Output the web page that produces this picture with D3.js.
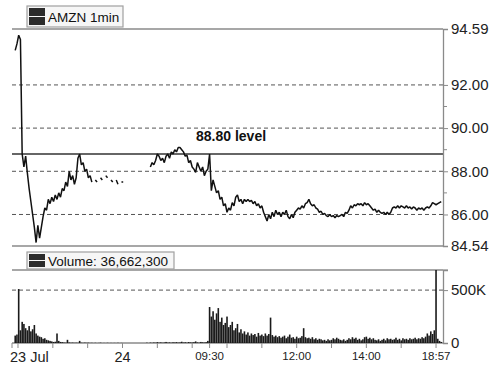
<!DOCTYPE html>
<html><head><meta charset="utf-8">
<script src="https://cdn.jsdelivr.net/npm/d3@7"></script>
<style>body{margin:0;background:#fff}svg{display:block;font-family:"Liberation Sans",Arial,Helvetica,sans-serif}</style>
</head><body><svg id="c" width="500" height="369"></svg>
<script>
// ---------- data ----------
const symbolLabel = "AMZN 1min";
const volumeLabel = "Volume: 36,662,300";
const levelValue = 88.80;
const levelLabel = "88.80 level";
const priceTicks = [94.59, 92.00, 90.00, 88.00, 86.00, 84.54];
const priceGrid = [92, 90, 88, 86];
const priceMinor = [91, 89, 87];
const volumeTicks = [0, 500000];
const volumeTickLabels = ["0", "500K"];
const volumeMax = 690000;
// compressed session timeline in hours
const timeTicks = [0, 1, 2, 3, 4, 5, 5.5, 6, 7, 8, 9, 10, 11, 12];
const labelTimes = [0, 3, 5.5, 8, 10, 12];
const labelTexts = ["23 Jul", "24", "09:30", "12:00", "14:00", "18:57"];
const step = 0.05;

// 23 Jul after-hours
const ahStart = -0.08;
const priceAH = [93.6, 93.9, 94.3, 94.1, 88.8, 88.2, 88.7, 87.9, 87.2, 86.6,
  86.0, 85.4, 84.7, 85.5, 84.9, 85.4, 85.9, 86.3, 86.2, 86.7,
  86.5, 86.8, 86.6, 86.9, 86.7, 87.0, 86.8, 87.2, 87.1, 87.5,
  87.3, 88.0, 87.6, 87.8, 87.4, 87.7, 88.6, 88.8, 88.3, 88.4,
  88.0, 88.1, 87.7, 87.8, 87.5, null, 87.6, 87.5, null, 87.7,
  87.6, null, 87.8, 87.7, null, 87.6, 87.5, null, 87.6, 87.4,
  null, 87.5, 87.5];
const volAH = [70, 80, 510, 120, 200, 180, 140, 120, 160, 110,
  130, 170, 90, 70, 60, 55, 40, 45, 30, 25,
  20, 15, 10, 12, 90, 20, 10, 8, 5, 3,
  30, 5, 3, 4, 2, 3, 2, 20, 3, 2,
  4, 2, 3, 1, 2, 0, 2, 0, 1, 3,
  0, 1, 0, 2, 0, 1, 0, 1, 0, 2,
  0, 1, 0];

// 24 Jul pre-market + session
const dayStart = 3.70;
const priceDay = [88.1, null, 88.2, 88.4, 88.3, 88.5, 88.8, 88.7, 88.5, 88.6,
  88.4, 88.7, 88.8, 88.6, 88.9, 88.8, 89.0, 88.9, 89.1, 89.1,
  89.0, 88.9, 88.7, 88.75, 88.4, 88.5, 88.2, 88.1, 87.95, 88.4,
  88.2, 88.0, 88.2, 87.8, 88.0, 88.1,
  88.8, 87.1, 87.6, 87.3, 87.0, 87.1, 86.7, 86.8, 86.4, 86.5,
  86.1, 86.3, 86.2, 86.55, 86.4, 86.8, 86.9, 86.6, 86.7, 86.5,
  86.7, 86.6, 86.7, 86.6, 86.65, 86.5, 86.6, 86.4, 86.5, 86.3,
  86.4, 86.1, 85.9, 85.7, 86.0, 85.8, 86.1, 85.9, 86.2, 86.0,
  86.1, 85.9, 86.1, 86.0, 86.2, 85.9, 85.8, 86.0, 85.85, 86.1,
  86.2, 86.3, 86.25, 86.4, 86.3, 86.5, 86.55, 86.7, 86.5, 86.4,
  86.45, 86.3, 86.25, 86.1, 86.15, 86.0, 86.05, 85.95, 85.9, 86.0,
  85.9, 85.95, 85.85, 85.95, 85.9, 85.95, 86.0, 85.9, 86.1, 86.05,
  86.2, 86.4, 86.3, 86.45, 86.4, 86.5, 86.45, 86.5, 86.4, 86.55,
  86.45, 86.5, 86.4, 86.3, 86.2, 86.25, 86.1, 86.2, 86.1, 86.05,
  86.1, 86.0, 86.1, 86.0, 86.1, 86.3, 86.35, 86.3, 86.4, 86.3,
  86.4, 86.35, 86.3, 86.4, 86.3, 86.35, 86.25, 86.35, 86.3, 86.2,
  86.3, 86.25, 86.3, 86.2, 86.3, 86.35, 86.3, 86.4, 86.55, 86.5,
  86.45, 86.5, 86.55, 86.6];
const volDay = [3, 0, 4, 2, 5, 3, 8, 4, 6, 3,
  5, 10, 4, 6, 3, 7, 5, 8, 4, 6,
  12, 5, 7, 4, 9, 6, 5, 8, 15, 6,
  4, 10, 7, 5, 8, 20,
  340, 250, 300, 220, 280, 330, 200, 240, 170, 190,
  250, 150, 170, 200, 120, 140, 180, 100, 130, 90,
  110, 80, 100, 70, 90, 75, 85, 60, 95, 70,
  80, 65, 90, 70, 85, 240, 75, 60, 70, 55,
  65, 50, 60, 70, 45, 60, 80, 50, 55, 40,
  60, 45, 50, 65, 140, 55, 45, 50, 40, 55,
  35, 45, 30, 40, 35, 25, 30, 20, 35, 25,
  30, 45, 35, 50, 40, 30, 25, 35, 20, 30,
  45, 35, 55, 40, 50, 30, 40, 25, 35, 55,
  60, 40, 50, 35, 45, 30, 25, 35, 20, 30,
  40, 25, 45, 35, 40, 30, 35, 50, 30, 40,
  25, 45, 35, 40, 30, 45, 35, 40, 50, 35,
  45, 40, 55, 45, 60, 90, 70, 110, 85, 120,
  720, 40, 20, 10];

// ---------- build ----------
const toPts = (start, arr) => arr.map((v, i) => ({t: start + i * step, v}));
const segments = [toPts(ahStart, priceAH), toPts(dayStart, priceDay)];
const volPts = toPts(ahStart, volAH).concat(toPts(dayStart, volDay));

const L = 12, R = 443;
const x = d3.scaleLinear().domain([-0.172, 12.2]).range([L, R]);
const y = d3.scaleLinear().domain([84.54, 94.59]).range([246, 29]);
const yv = d3.scaleLinear().domain([0, volumeMax]).range([343, 270]).clamp(true);

const svg = d3.select("#c");
const grey = "#8a8a8a";

// gridlines
svg.append("g").selectAll("line").data(priceGrid).join("line")
  .attr("x1", L).attr("x2", R).attr("y1", d => y(d)).attr("y2", d => y(d))
  .attr("stroke", "#555").attr("stroke-width", 1).attr("stroke-dasharray", "4,3");
svg.append("line").attr("x1", L).attr("x2", R).attr("y1", yv(500000)).attr("y2", yv(500000))
  .attr("stroke", "#555").attr("stroke-dasharray", "4,3");

// panel frames
[[29], [246], [270], [343]].forEach(([yy]) =>
  svg.append("line").attr("x1", L).attr("x2", R).attr("y1", yy).attr("y2", yy)
    .attr("stroke", grey).attr("stroke-width", 1.3));

// level line
svg.append("line").attr("x1", L).attr("x2", R).attr("y1", y(levelValue)).attr("y2", y(levelValue))
  .attr("stroke", "#333").attr("stroke-width", 1.6);
svg.append("text").attr("x", 196).attr("y", 141).attr("font-size", 14).attr("font-weight", "bold")
  .attr("fill", "#111").text(levelLabel);

// volume bars
svg.append("g").selectAll("rect").data(volPts.filter(d => d.v > 0)).join("rect")
  .attr("x", d => x(d.t) - 0.8).attr("width", 1.6)
  .attr("y", d => yv(d.v * 1000)).attr("height", d => 343 - yv(d.v * 1000))
  .attr("fill", "#1a1a1a");

// price line
const line = d3.line().defined(d => d.v != null).x(d => x(d.t)).y(d => y(d.v));
segments.forEach(seg => svg.append("path").datum(seg).attr("d", line)
  .attr("fill", "none").attr("stroke", "#111").attr("stroke-width", 1.5)
  .attr("stroke-linejoin", "bevel"));

// right axes
const rAxisP = d3.axisRight(y).tickValues(priceTicks).tickFormat(d3.format(".2f")).tickSize(5).tickPadding(3);
const gP = svg.append("g").attr("transform", `translate(${R},0)`).call(rAxisP);
gP.append("g").selectAll("line").data(priceMinor).join("line")
  .attr("x1", 0).attr("x2", 4).attr("y1", d => y(d)).attr("y2", d => y(d)).attr("stroke", grey);
const rAxisV = d3.axisRight(yv).tickValues(volumeTicks).tickFormat((d, i) => volumeTickLabels[i]).tickSize(5).tickPadding(3);
const gV = svg.append("g").attr("transform", `translate(${R},0)`).call(rAxisV);
[gP, gV].forEach(g => {
  g.select(".domain").attr("stroke", grey).attr("stroke-width", 1.3);
  g.selectAll(".tick line").attr("stroke", grey);
  g.selectAll("text").attr("font-size", 15).attr("fill", "#222")
    .attr("font-family", '"Liberation Sans",Arial,sans-serif');
});
gV.append("line").attr("x1", 0).attr("x2", 5).attr("y1", 270).attr("y2", 270).attr("stroke", grey);

// bottom axis
const bx = svg.append("g").attr("transform", "translate(0,343)");
bx.selectAll("line").data(timeTicks).join("line")
  .attr("x1", d => x(d)).attr("x2", d => x(d)).attr("y1", 0).attr("y2", 5).attr("stroke", grey);
bx.append("line").attr("x1", L).attr("x2", L).attr("y1", 0).attr("y2", 5).attr("stroke", grey);
bx.selectAll("text").data(labelTimes).join("text")
  .attr("x", (d, i) => i === 0 ? 10 : x(d))
  .attr("y", (d, i) => labelTexts[i].includes(":") ? 17 : 19)
  .attr("text-anchor", (d, i) => i === 0 ? "start" : "middle")
  .attr("font-size", (d, i) => labelTexts[i].includes(":") ? 11.5 : 14.5)
  .attr("fill", "#222").text((d, i) => labelTexts[i]);

// legends
function legend(x0, y0, w, h, label) {
  const g = svg.append("g");
  g.append("rect").attr("x", x0).attr("y", y0).attr("width", w).attr("height", h)
    .attr("fill", "#f6f6f6").attr("stroke", "#a0a0a0").attr("stroke-width", 1.2);
  const ih = (h - 5) / 2;
  g.append("rect").attr("x", x0 + 2).attr("y", y0 + 2).attr("width", 16).attr("height", ih).attr("fill", "#2b2b2b");
  g.append("rect").attr("x", x0 + 2).attr("y", y0 + 3 + ih).attr("width", 16).attr("height", ih).attr("fill", "#2b2b2b");
  g.append("text").attr("x", x0 + 21).attr("y", y0 + h / 2 + 5).attr("font-size", 13.5)
    .attr("fill", "#111").text(label);
}
legend(27, 6, 96, 21, symbolLabel);
legend(27, 252, 147, 17, volumeLabel);
</script></body></html>
